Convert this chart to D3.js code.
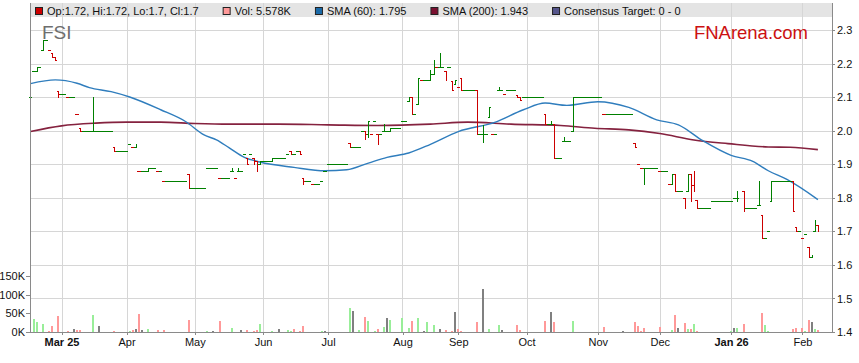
<!DOCTYPE html>
<html>
<head>
<meta charset="utf-8">
<script src="https://cdn.jsdelivr.net/npm/d3@7"></script>
<style>
  body { margin: 0; background: #fff; }
  svg { display: block; font-family: "Liberation Sans", Arial, sans-serif; }
</style>
</head>
<body>
<div id="chart"></div>
<script>
// trading-day slot index, open, high, low, close (short form [i, p] = o=h=l=c)
const trades = [
  [0, 2.10], [1, 2.18], [2, 2.18, 2.19, 2.18, 2.19], [4, 2.24, 2.27, 2.24, 2.27],
  [6, 2.24], [7, 2.232, 2.232, 2.22, 2.22], [8, 2.22, 2.22, 2.21, 2.21],
  [9, 2.12, 2.12, 2.10, 2.11], [12, 2.10], [15, 2.05], [16, 2.008, 2.008, 2.0, 2.0],
  [20, 2.0, 2.10, 2.0, 2.0], [27, 1.952, 1.952, 1.94, 1.94], [32, 1.962], [33, 1.952],
  [34, 1.952, 1.962, 1.952, 1.962], [35, 1.88], [38, 1.88, 1.889, 1.88, 1.889], [41, 1.88],
  [43, 1.851], [51, 1.87, 1.87, 1.83, 1.83], [57, 1.889], [61, 1.86],
  [65, 1.88, 1.889, 1.88, 1.88], [66, 1.86], [67, 1.88, 1.889, 1.88, 1.88], [69, 1.932],
  [70, 1.919, 1.919, 1.901, 1.90], [71, 1.932], [72, 1.919, 1.919, 1.901, 1.90],
  [73, 1.91, 1.91, 1.88, 1.88], [74, 1.90, 1.91, 1.90, 1.91], [78, 1.91, 1.919, 1.91, 1.919],
  [83, 1.932], [84, 1.94, 1.94, 1.932, 1.932], [85, 1.932], [86, 1.94],
  [87, 1.94, 1.94, 1.93, 1.93], [88, 1.86, 1.86, 1.842, 1.851], [91, 1.842], [94, 1.851],
  [95, 1.881], [96, 1.901], [103, 1.964, 1.964, 1.952, 1.952], [107, 2.0],
  [108, 2.0, 2.0, 1.975, 1.99], [109, 1.99, 2.03, 1.982, 2.03], [110, 1.99], [111, 2.03],
  [112, 1.99, 1.99, 1.96, 1.96], [113, 1.99], [114, 2.0, 2.02, 2.0, 2.0],
  [116, 2.0, 2.008, 2.0, 2.008], [120, 2.03], [122, 2.09, 2.10, 2.09, 2.10],
  [123, 2.10, 2.10, 2.05, 2.05], [125, 2.08, 2.159, 2.08, 2.159], [126, 2.152],
  [129, 2.152, 2.182, 2.152, 2.17], [130, 2.17, 2.21, 2.17, 2.21], [131, 2.19],
  [132, 2.19, 2.232, 2.19, 2.19], [134, 2.18, 2.18, 2.152, 2.152], [135, 2.19],
  [136, 2.15, 2.15, 2.122, 2.122], [137, 2.14, 2.151, 2.14, 2.151], [138, 2.13],
  [139, 2.159, 2.159, 2.122, 2.122], [144, 2.122, 2.122, 1.99, 1.99],
  [146, 1.99, 2.018, 1.968, 1.99], [148, 2.041, 2.072, 2.041, 2.072], [149, 1.99],
  [151, 2.122, 2.13, 2.122, 2.122], [153, 2.11], [154, 2.122],
  [157, 2.108, 2.108, 2.10, 2.10], [158, 2.10, 2.10, 2.092, 2.092], [159, 2.10],
  [166, 2.05, 2.05, 2.02, 2.02], [168, 2.02, 2.03, 2.02, 2.02], [169, 2.02, 2.02, 1.92, 1.92],
  [172, 1.97, 1.982, 1.97, 1.97], [175, 2.0, 2.10, 2.0, 2.10], [185, 2.05],
  [195, 1.964, 1.964, 1.952, 1.952], [196, 1.901], [197, 1.889],
  [198, 1.889, 1.889, 1.842, 1.889], [203, 1.881], [206, 1.842],
  [207, 1.842, 1.871, 1.842, 1.871], [208, 1.871, 1.871, 1.822, 1.822],
  [211, 1.80, 1.80, 1.77, 1.77], [212, 1.822, 1.871, 1.822, 1.871],
  [213, 1.871, 1.871, 1.79, 1.79], [214, 1.84, 1.881, 1.822, 1.822],
  [215, 1.793, 1.793, 1.77, 1.77], [220, 1.792], [227, 1.80], [228, 1.80, 1.822, 1.792, 1.80],
  [230, 1.822, 1.822, 1.76, 1.77], [235, 1.78, 1.851, 1.78, 1.78],
  [236, 1.75, 1.75, 1.681, 1.681], [238, 1.70], [239, 1.792, 1.851, 1.792, 1.851],
  [246, 1.851, 1.851, 1.762, 1.762], [247, 1.713, 1.713, 1.70, 1.70], [249, 1.681],
  [250, 1.691], [251, 1.653, 1.653, 1.623, 1.623], [252, 1.623, 1.63, 1.623, 1.63],
  [253, 1.70, 1.733, 1.70, 1.733], [254, 1.72, 1.72, 1.70, 1.70]
];

// days with no trade: [from slot, to slot, price carried]
const flats = [
  [3, 3, 2.19], [5, 5, 2.27], [10, 11, 2.11], [13, 14, 2.10], [17, 19, 2.0], [21, 26, 2.0],
  [28, 31, 1.94], [36, 37, 1.88], [39, 40, 1.889], [42, 42, 1.88], [44, 50, 1.851],
  [52, 56, 1.83], [58, 60, 1.889], [62, 64, 1.86], [68, 68, 1.88], [75, 77, 1.91],
  [79, 82, 1.919], [89, 90, 1.851], [92, 93, 1.842], [97, 102, 1.901], [104, 106, 1.952],
  [115, 115, 2.0], [117, 119, 2.008], [121, 121, 2.03], [124, 124, 2.05], [127, 128, 2.152],
  [133, 133, 2.19], [140, 143, 2.122], [145, 145, 1.99], [147, 147, 1.99], [150, 150, 1.99],
  [152, 152, 2.122], [155, 156, 2.122], [160, 165, 2.10], [167, 167, 2.02], [170, 171, 1.92],
  [173, 174, 1.97], [176, 184, 2.10], [186, 194, 2.05], [199, 202, 1.889], [204, 205, 1.881],
  [209, 210, 1.822], [216, 219, 1.77], [221, 226, 1.792], [231, 234, 1.77], [237, 237, 1.681],
  [240, 245, 1.851], [248, 248, 1.70]
];

// volume in K: [slot, volume, u=up d=down n=unchanged]
const volumes = [
  [1, 35, 'u'], [2, 27, 'u'], [4, 21, 'u'], [6, 4, 'd'], [7, 16, 'd'], [9, 43, 'd'], [12, 4, 'd'],
  [14, 8, 'n'], [15, 5, 'd'], [16, 5, 'd'], [20, 46, 'u'], [22, 16, 'n'], [27, 3, 'd'], [32, 3, 'u'],
  [33, 5, 'd'], [34, 8, 'n'], [35, 48, 'd'], [36, 5, 'n'], [38, 8, 'u'], [41, 5, 'd'], [43, 5, 'd'],
  [51, 32, 'd'], [57, 3, 'u'], [59, 3, 'n'], [61, 29, 'd'], [65, 11, 'u'], [68, 5, 'n'], [70, 5, 'd'],
  [72, 3, 'd'], [73, 5, 'd'], [74, 21, 'u'], [78, 3, 'u'], [80, 8, 'n'], [83, 5, 'u'], [84, 4, 'u'],
  [85, 8, 'd'], [87, 3, 'd'], [88, 16, 'd'], [94, 3, 'u'], [95, 3, 'n'], [103, 64, 'u'], [104, 56, 'n'],
  [106, 5, 'u'], [108, 40, 'd'], [109, 29, 'u'], [111, 3, 'u'], [112, 8, 'd'], [114, 13, 'u'],
  [115, 37, 'n'], [116, 32, 'u'], [120, 37, 'u'], [122, 11, 'u'], [123, 29, 'd'], [125, 37, 'u'],
  [127, 4, 'n'], [128, 27, 'u'], [130, 19, 'u'], [132, 8, 'n'], [134, 5, 'd'], [136, 3, 'd'],
  [137, 54, 'n'], [138, 8, 'd'], [139, 3, 'd'], [144, 27, 'd'], [146, 115, 'n'], [148, 8, 'u'],
  [151, 19, 'u'], [152, 5, 'n'], [157, 19, 'd'], [158, 5, 'd'], [166, 29, 'd'], [168, 54, 'n'],
  [169, 27, 'd'], [175, 29, 'u'], [185, 13, 'd'], [191, 3, 'n'], [195, 27, 'd'], [196, 16, 'd'],
  [197, 3, 'd'], [198, 11, 'd'], [203, 13, 'd'], [207, 5, 'u'], [208, 46, 'd'], [209, 11, 'n'],
  [211, 24, 'd'], [212, 8, 'u'], [213, 8, 'd'], [214, 21, 'u'], [215, 3, 'd'], [226, 3, 'u'],
  [227, 11, 'n'], [228, 11, 'u'], [230, 21, 'd'], [236, 51, 'd'], [237, 19, 'u'], [238, 3, 'u'],
  [246, 8, 'd'], [247, 11, 'd'], [249, 11, 'd'], [250, 3, 'u'], [251, 32, 'd'], [252, 27, 'n'],
  [253, 8, 'u'], [254, 5.578, 'd']
];

const sma60 = [
  [0, 2.141], [8, 2.152], [15, 2.142], [19, 2.129], [26, 2.117], [32, 2.101], [42, 2.063],
  [50, 2.028], [56, 1.988], [60, 1.973], [64, 1.950], [69, 1.921], [74, 1.907], [85, 1.891],
  [95, 1.881], [102, 1.884], [109, 1.904], [115, 1.921], [122, 1.934], [129, 1.960],
  [138, 1.998], [150, 2.026], [159, 2.063], [166, 2.083], [173, 2.076], [183, 2.087],
  [193, 2.070], [202, 2.033], [209, 2.018], [217, 1.970], [226, 1.927], [233, 1.909],
  [238, 1.881], [244, 1.855], [254, 1.795]
];

const sma200 = [
  [0, 1.998], [10, 2.015], [21, 2.023], [31, 2.026], [42, 2.026], [53, 2.022], [64, 2.020],
  [80, 2.020], [96, 2.018], [112, 2.016], [129, 2.020], [141, 2.026], [155, 2.020],
  [171, 2.016], [182, 2.008], [193, 2.003], [203, 1.992], [214, 1.973], [225, 1.962],
  [238, 1.952], [245, 1.951], [254, 1.944]
];

const monthDays   = [10, 31, 53, 75, 96, 120, 138, 160, 183, 203, 226, 249];
const monthLabels = ['Mar 25', 'Apr', 'May', 'Jun', 'Jul', 'Aug', 'Sep', 'Oct', 'Nov', 'Dec', 'Jan 26', 'Feb'];
const yearLabels  = ['Mar 25', 'Jan 26'];
const priceTicks  = [1.4, 1.5, 1.6, 1.7, 1.8, 1.9, 2.0, 2.1, 2.2, 2.3];
const volTicks    = [0, 50, 100, 150];

const legendItems = [
  { label: 'Op:1.72, Hi:1.72, Lo:1.7, Cl:1.7', color: '#cc0000' },
  { label: 'Vol: 5.578K', color: '#ff9999' },
  { label: 'SMA (60): 1.795', color: '#1a6aa8' },
  { label: 'SMA (200): 1.943', color: '#7a1030' },
  { label: 'Consensus Target: 0 - 0', color: '#56568c' }
];

const W = 859, H = 363;
const plotL = 30, plotR = 832, plotT = 3, plotB = 332;

const svg = d3.select('#chart').append('svg')
  .attr('width', W)
  .attr('height', H);

const x = d3.scaleLinear().domain([0, 258]).range([30.5, 830.3]);
const y = d3.scaleLinear().domain([1.4, 2.3]).range([plotB, 30.3]);
const yv = d3.scaleLinear().domain([0, 150]).range([plotB, 276]);
const half = (x(1) - x(0)) / 2;
const px = v => Math.round(v) + 0.5;

// legend band
svg.append('rect')
  .attr('x', plotL).attr('y', plotT)
  .attr('width', plotR - plotL).attr('height', 14)
  .attr('fill', '#e4e4e4');

// grid
const grid = svg.append('g').attr('shape-rendering', 'crispEdges');
grid.selectAll('.hg')
  .data(priceTicks)
  .join('line')
  .attr('x1', plotL).attr('x2', plotR)
  .attr('y1', d => px(y(d))).attr('y2', d => px(y(d)))
  .attr('stroke', '#d6d6d6');
grid.selectAll('.vg')
  .data(monthDays)
  .join('line')
  .attr('x1', d => px(x(d))).attr('x2', d => px(x(d)))
  .attr('y1', plotT).attr('y2', plotB)
  .attr('stroke', '#d6d6d6');

// watermark texts
svg.append('text')
  .attr('x', 42).attr('y', 39)
  .attr('font-size', 19)
  .attr('fill', '#6e6e6e')
  .text('FSI');

svg.append('text')
  .attr('x', 808).attr('y', 39)
  .attr('text-anchor', 'end')
  .attr('font-size', 18.5)
  .attr('fill', '#cc1111')
  .text('FNArena.com');

// volume bars
const volColor = { u: '#99ee99', d: '#ff9999', n: '#808080' };
svg.append('g')
  .attr('shape-rendering', 'crispEdges')
  .selectAll('rect')
  .data(volumes)
  .join('rect')
  .attr('x', d => Math.round(x(d[0])) - 1)
  .attr('y', d => yv(d[1]))
  .attr('width', 2)
  .attr('height', d => plotB - yv(d[1]))
  .attr('fill', d => volColor[d[2]]);

// SMA lines
const smaLine = d3.line()
  .x(d => x(d[0]))
  .y(d => y(d[1]))
  .curve(d3.curveMonotoneX);

svg.append('path')
  .datum(sma200)
  .attr('d', smaLine)
  .attr('fill', 'none')
  .attr('stroke', '#85223f')
  .attr('stroke-width', 1.6);

svg.append('path')
  .datum(sma60)
  .attr('d', smaLine)
  .attr('fill', 'none')
  .attr('stroke', '#2f7dbd')
  .attr('stroke-width', 1.4);

// OHLC bars
const bars = trades.map(t => t.length === 2
  ? { i: t[0], o: t[1], h: t[1], l: t[1], c: t[1] }
  : { i: t[0], o: t[1], h: t[2], l: t[3], c: t[4] });
let prevClose = bars[0].c;
bars.forEach(b => {
  b.down = b.c < b.o || (b.c === b.o && b.c < prevClose);
  prevClose = b.c;
});
const upColor = '#008000', downColor = '#cc0000';

const ohlc = svg.append('g').attr('shape-rendering', 'crispEdges');

ohlc.selectAll('.flat')
  .data(flats)
  .join('line')
  .attr('x1', d => x(d[0]) - half).attr('x2', d => x(d[1]) + half)
  .attr('y1', d => px(y(d[2]))).attr('y2', d => px(y(d[2])))
  .attr('stroke', upColor);

const barG = ohlc.selectAll('.bar')
  .data(bars)
  .join('g')
  .attr('stroke', d => d.down ? downColor : upColor);
barG.filter(d => d.h !== d.l).append('line')
  .attr('x1', d => px(x(d.i))).attr('x2', d => px(x(d.i)))
  .attr('y1', d => Math.round(y(d.h))).attr('y2', d => Math.round(y(d.l)) + 1);
barG.append('line')
  .attr('x1', d => x(d.i) - half).attr('x2', d => x(d.i))
  .attr('y1', d => px(y(d.o))).attr('y2', d => px(y(d.o)));
barG.append('line')
  .attr('x1', d => x(d.i)).attr('x2', d => x(d.i) + half)
  .attr('y1', d => px(y(d.c))).attr('y2', d => px(y(d.c)));

// axes
const axisColor = '#8a8a8a';

const rAxis = svg.append('g')
  .attr('transform', `translate(${plotR},0)`)
  .call(d3.axisRight(y).tickValues(priceTicks).tickSize(3).tickPadding(2).tickFormat(d3.format('.1f')));

const lAxis = svg.append('g')
  .attr('transform', `translate(${plotL},0)`)
  .call(d3.axisLeft(yv).tickValues(volTicks).tickSize(4).tickPadding(1).tickFormat(d => d + 'K'));

const bAxis = svg.append('g')
  .attr('transform', `translate(0,${plotB})`)
  .call(d3.axisBottom(x).tickValues(monthDays).tickSize(3).tickPadding(3)
    .tickFormat((d, i) => monthLabels[i]));

[rAxis, lAxis, bAxis].forEach(a => {
  a.select('.domain').remove();
  a.selectAll('line').attr('stroke', axisColor).attr('shape-rendering', 'crispEdges');
  a.selectAll('text')
    .attr('fill', '#111')
    .attr('font-size', 11)
    .attr('font-family', '"Liberation Sans", Arial, sans-serif');
});
bAxis.selectAll('text')
  .attr('font-weight', d => yearLabels.includes(monthLabels[monthDays.indexOf(d)]) ? 'bold' : 'normal');

const frame = svg.append('g')
  .attr('stroke', axisColor)
  .attr('shape-rendering', 'crispEdges');
frame.append('line').attr('x1', plotL + 0.5).attr('x2', plotL + 0.5).attr('y1', plotT).attr('y2', plotB + 1);
frame.append('line').attr('x1', plotR + 0.5).attr('x2', plotR + 0.5).attr('y1', plotT).attr('y2', plotB + 1);
frame.append('line').attr('x1', plotL).attr('x2', plotR + 1).attr('y1', plotB + 0.5).attr('y2', plotB + 0.5);

// legend
const legend = svg.append('g').attr('font-size', 11);
let lx = 35;
legendItems.forEach(item => {
  legend.append('rect')
    .attr('x', lx + 0.5).attr('y', 7.5)
    .attr('width', 7).attr('height', 7)
    .attr('fill', item.color)
    .attr('stroke', '#222');
  const t = legend.append('text')
    .attr('x', lx + 12).attr('y', 15)
    .attr('fill', '#111')
    .text(item.label);
  lx += 12 + t.node().getComputedTextLength() + 24;
});
</script>
</body>
</html>
